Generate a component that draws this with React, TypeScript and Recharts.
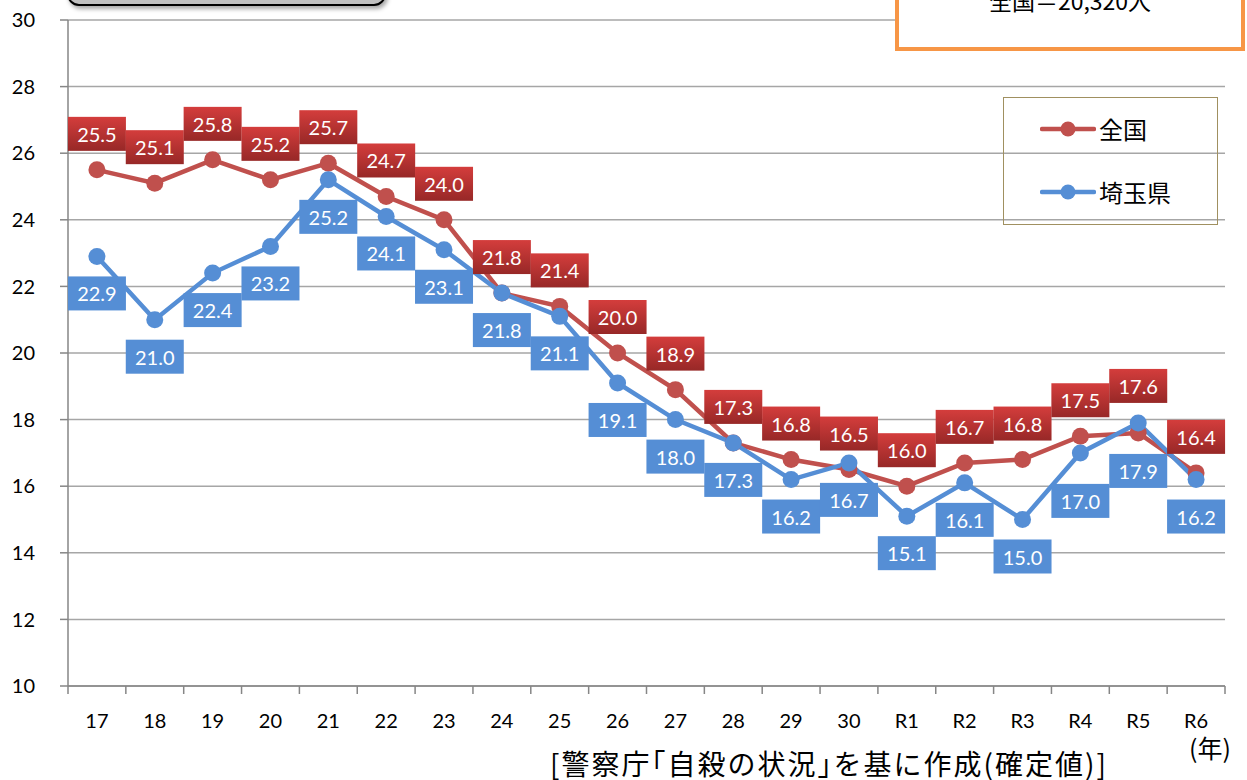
import React from "react";
import { LineChart, Line, XAxis, YAxis, CartesianGrid, LabelList } from "recharts";

const years = ["17","18","19","20","21","22","23","24","25","26","27","28","29","30","R1","R2","R3","R4","R5","R6"];
const national = [25.5,25.1,25.8,25.2,25.7,24.7,24.0,21.8,21.4,20.0,18.9,17.3,16.8,16.5,16.0,16.7,16.8,17.5,17.6,16.4];
const saitama = [22.9,21.0,22.4,23.2,25.2,24.1,23.1,21.8,21.1,19.1,18.0,17.3,16.2,16.7,15.1,16.1,15.0,17.0,17.9,16.2];
const yTicks = [10,12,14,16,18,20,22,24,26,28,30];
const seriesNames = ["全国", "埼玉県"];

const data = years.map((y, i) => ({ year: y, national: national[i], saitama: saitama[i] }));

const RED = "#c0504d";
const BLUE = "#558ed5";
const NUMFONT = "Lato, 'Noto Sans', sans-serif";
const JPFONT = "'Noto Sans CJK JP', 'Noto Sans', sans-serif";
const BAND = (1225 - 68) / 20;

const RedLabel = (props: any) => {
  const { x, y, value, index } = props;
  const off = index === 18 ? 47 : 36;
  const cy = y - off;
  const id = "rg" + index;
  return (
    <g>
      <defs>
        <linearGradient id={id} x1="0" y1="0" x2="0" y2="1">
          <stop offset="0" stopColor="#d43d3c" />
          <stop offset="1" stopColor="#972827" />
        </linearGradient>
      </defs>
      <rect x={x - 29} y={cy - 17} width={58} height={34} fill={`url(#${id})`} />
      <text x={x} y={cy} textAnchor="middle" dominantBaseline="central" fill="#fff" fontSize={20} fontFamily={NUMFONT}>
        {Number(value).toFixed(1)}
      </text>
    </g>
  );
};

const BlueLabel = (props: any) => {
  const { x, y, value, index } = props;
  const off = index === 17 || index === 18 ? 48 : 37;
  const cy = y + off;
  return (
    <g>
      <rect x={x - 29} y={cy - 17} width={58} height={34} fill={BLUE} />
      <text x={x} y={cy} textAnchor="middle" dominantBaseline="central" fill="#fff" fontSize={20} fontFamily={NUMFONT}>
        {Number(value).toFixed(1)}
      </text>
    </g>
  );
};

const XTick = (props: any) => {
  const { x, y, payload, index } = props;
  const half = BAND / 2;
  return (
    <g>
      <line x1={x - half} y1={y} x2={x - half} y2={y + 8} stroke="#868686" strokeWidth={1.5} />
      {index === years.length - 1 && (
        <line x1={x + half} y1={y} x2={x + half} y2={y + 8} stroke="#868686" strokeWidth={1.5} />
      )}
      <text x={x} y={y + 34} textAnchor="middle" dominantBaseline="central" fill="#000" fontSize={20} fontFamily={NUMFONT}>
        {payload.value}
      </text>
    </g>
  );
};

export default function App() {
  return (
    <div style={{ position: "absolute", left: 0, top: 0, width: 1247, height: 780, overflow: "hidden", background: "#fff" }}>
      <LineChart width={1247} height={780} data={data} margin={{ top: 20, right: 22, left: 0, bottom: 54 }}>
        <CartesianGrid vertical={false} stroke="#a6a6a6" strokeWidth={1.5} />
        <XAxis
          dataKey="year"
          interval={0}
          padding={{ left: BAND / 2, right: BAND / 2 }}
          tickLine={false}
          tickSize={0}
          tickMargin={0}
          height={40}
          axisLine={{ stroke: "#868686", strokeWidth: 1.5 }}
          tick={<XTick />}
        />
        <YAxis
          domain={[10, 30]}
          ticks={yTicks}
          width={68}
          interval={0}
          tickSize={8}
          tickMargin={25}
          axisLine={{ stroke: "#868686", strokeWidth: 1.5 }}
          tickLine={{ stroke: "#868686", strokeWidth: 1.5 }}
          tick={{ fill: "#000", fontSize: 20, fontFamily: NUMFONT }}
        />
        <Line dataKey="national" stroke={RED} strokeWidth={4.5} dot={{ r: 8.5, fill: RED, stroke: "none" }} activeDot={false} isAnimationActive={false} />
        <Line dataKey="saitama" stroke={BLUE} strokeWidth={4.5} dot={{ r: 8.5, fill: BLUE, stroke: "none" }} activeDot={false} isAnimationActive={false} />
        <Line dataKey="national" stroke="none" dot={false} activeDot={false} isAnimationActive={false} legendType="none">
          <LabelList dataKey="national" content={<RedLabel />} />
        </Line>
        <Line dataKey="saitama" stroke="none" dot={false} activeDot={false} isAnimationActive={false} legendType="none">
          <LabelList dataKey="saitama" content={<BlueLabel />} />
        </Line>
      </LineChart>

      {/* legend */}
      <div style={{ position: "absolute", left: 1003, top: 97, width: 215, height: 128, boxSizing: "border-box", border: "1.5px solid #a09060" }}>
        {[RED, BLUE].map((c, i) => (
          <div key={i} style={{ position: "absolute", left: 36, top: i === 0 ? 16 : 79, height: 30, display: "flex", alignItems: "center" }}>
            <svg width={56} height={20}>
              <line x1={2} y1={10} x2={54} y2={10} stroke={c} strokeWidth={4.5} strokeLinecap="round" />
              <circle cx={28} cy={10} r={7.5} fill={c} />
            </svg>
            <span style={{ marginLeft: 3, fontFamily: JPFONT, fontSize: 24, color: "#000", lineHeight: "30px" }}>{seriesNames[i]}</span>
          </div>
        ))}
      </div>

      {/* top-left cut-off box */}
      <div style={{ position: "absolute", left: 67, top: -42, width: 319, height: 48, boxSizing: "border-box", background: "#c0c0c0", border: "2px solid #000", borderRadius: 12, boxShadow: "2px 3px 4px rgba(0,0,0,0.35)" }} />

      {/* top-right cut-off box */}
      <div style={{ position: "absolute", left: 895, top: -70, width: 350, height: 121, boxSizing: "border-box", background: "#fff", border: "4px solid #f79646" }}>
        <div style={{ position: "absolute", left: 0, right: 0, top: 51, textAlign: "center", fontFamily: JPFONT, fontSize: 23, lineHeight: "30px", color: "#000" }}>
          全国＝20,320人
        </div>
      </div>

      <div style={{ position: "absolute", left: 1189, top: 731, fontFamily: JPFONT, fontSize: 25, lineHeight: "32px", color: "#000" }}>(年)</div>
      <div style={{ position: "absolute", left: 550, top: 748, fontFamily: JPFONT, fontSize: 28, lineHeight: "30px", letterSpacing: 2, color: "#000", whiteSpace: "nowrap" }}>
        [警察庁｢自殺の状況｣を基に作成(確定値)]
      </div>
    </div>
  );
}
